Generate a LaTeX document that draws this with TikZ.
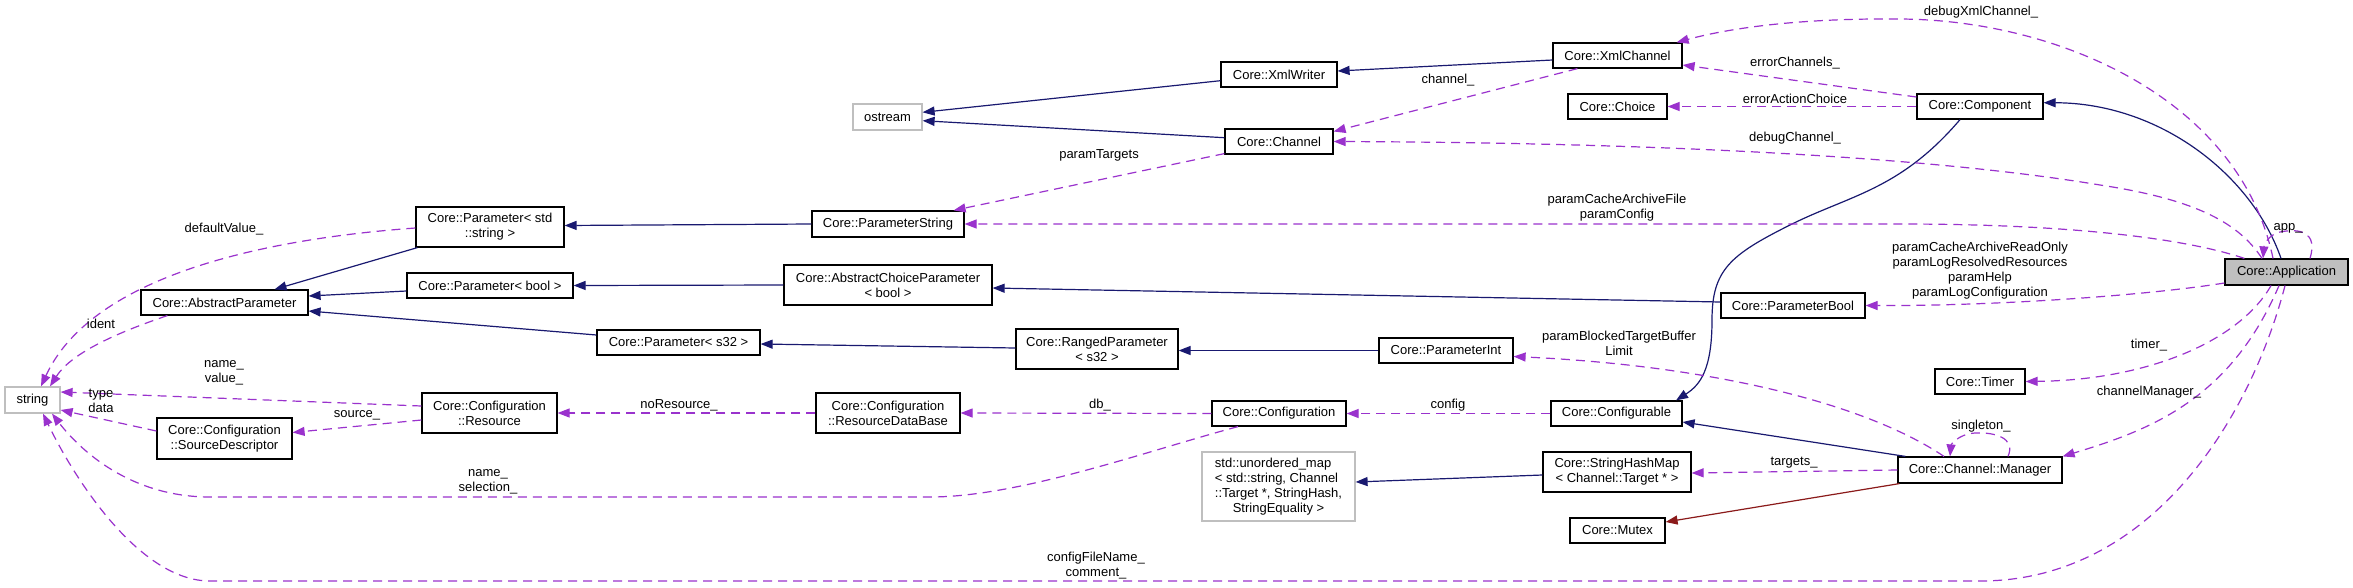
\documentclass[tikz,border=0pt]{standalone}
\usepackage{fontspec}
\setmainfont{Liberation Sans}
\usetikzlibrary{arrows.meta,calc}
\definecolor{inhcol}{HTML}{191970}
\definecolor{usecol}{HTML}{9A32CD}
\definecolor{privcol}{HTML}{8B1A1A}
\definecolor{graycol}{HTML}{BFBFBF}
\begin{document}
\begin{tikzpicture}[x=1pt,y=-1pt,font=\fontsize{13}{15}\selectfont,
  box/.style={draw=black,line width=1.2pt,inner sep=0pt,align=center,fill=white},
  gbox/.style={box,draw=graycol},
  lbl/.style={inner sep=0pt,align=center},
  inhline/.style={draw=inhcol,line width=1.2pt,-{Triangle[length=12pt,width=9pt]}},
  privline/.style={draw=privcol,line width=1.2pt,-{Triangle[length=12pt,width=9pt]}},
  useline/.style={draw=usecol,line width=1.2pt,dash pattern=on 9pt off 6pt,-{Triangle[length=12pt,width=9pt]}}]
\useasboundingbox[fill=white] (0,0) rectangle (2353,587);

% nodes
\node[gbox,minimum width=69,minimum height=26] (ostream) at (887.5,117) {ostream};
\node[gbox,minimum width=55,minimum height=26] (string) at (32.5,400) {string};
\node[box,minimum width=116,minimum height=25] (xmlwriter) at (1279,74.5) {Core::XmlWriter};
\node[box,minimum width=129,minimum height=25] (xmlchannel) at (1617.5,55.5) {Core::XmlChannel};
\node[box,minimum width=99,minimum height=25] (choice) at (1617.5,106.5) {Core::Choice};
\node[box,minimum width=126,minimum height=25] (component) at (1980,106.5) {Core::Component};
\node[box,minimum width=108,minimum height=25] (channel) at (1279,141.5) {Core::Channel};
\node[box,minimum width=148,minimum height=40] (paramstd) at (490,227) {Core::Parameter< std\\::string >};
\node[box,minimum width=152,minimum height=26] (paramstring) at (888,224) {Core::ParameterString};
\node[box,minimum width=167,minimum height=25] (absparam) at (224.5,302.5) {Core::AbstractParameter};
\node[box,minimum width=166,minimum height=25] (parambool) at (490,285.5) {Core::Parameter< bool >};
\node[box,minimum width=208,minimum height=40] (abschoice) at (888,285) {Core::AbstractChoiceParameter\\< bool >};
\node[box,minimum width=144,minimum height=25] (parameterbool) at (1793,305.5) {Core::ParameterBool};
\node[box,fill=graycol,minimum width=123,minimum height=26] (app) at (2286.5,272) {Core::Application};
\node[box,minimum width=163,minimum height=25] (params32) at (678.5,342.5) {Core::Parameter< s32 >};
\node[box,minimum width=162,minimum height=40] (ranged) at (1097,349) {Core::RangedParameter\\< s32 >};
\node[box,minimum width=134,minimum height=25] (paramint) at (1446,350.5) {Core::ParameterInt};
\node[box,minimum width=135,minimum height=40] (resource) at (489.5,413) {Core::Configuration\\::Resource};
\node[box,minimum width=135,minimum height=41] (sourcedesc) at (224.5,438.5) {Core::Configuration\\::SourceDescriptor};
\node[box,minimum width=144,minimum height=40] (rdb) at (888,413) {Core::Configuration\\::ResourceDataBase};
\node[box,minimum width=134,minimum height=25] (configuration) at (1279,413.5) {Core::Configuration};
\node[box,minimum width=131,minimum height=25] (configurable) at (1616.5,413.5) {Core::Configurable};
\node[box,minimum width=90,minimum height=25] (timer) at (1980,381.5) {Core::Timer};
\node[gbox,minimum width=153,minimum height=69] (umap) at (1278.5,486.5) {\begin{tabular}{@{}l@{}}std::unordered\_map\\< std::string, Channel\\::Target *, StringHash,\\\multicolumn{1}{@{}c@{}}{StringEquality >}\end{tabular}};
\node[box,minimum width=148,minimum height=40] (shm) at (1617,472) {Core::StringHashMap\\< Channel::Target * >};
\node[box,minimum width=164,minimum height=26] (manager) at (1980,470) {Core::Channel::Manager};
\node[box,minimum width=95,minimum height=25] (mutex) at (1617.5,530.5) {Core::Mutex};

% inheritance
\draw[inhline] ($(xmlwriter.west)+(0,6.2)$) -- ($(ostream.east)+(0,-4.7)$);
\draw[inhline] ($(channel.west)+(0,-3.8)$) -- ($(ostream.east)+(0,3.7)$);
\draw[inhline] ($(xmlchannel.west)+(0,4.5)$) -- ($(xmlwriter.east)+(0,-3.5)$);
\draw[inhline] ($(app.north)+(-5.5,0)$) .. controls (2252,175) and (2160,103) .. ($(component.east)+(0,-3.8)$);
\draw[inhline] (paramstring.west) -- ($(paramstd.east)+(0,-1.5)$);
\draw[inhline] ($(paramstd.south west)+(2,0)$) -- ($(absparam.north)+(50,0)$);
\draw[inhline] ($(parambool.west)+(0,5.5)$) -- ($(absparam.east)+(0,-6.5)$);
\draw[inhline] ($(params32.west)+(0,-7.5)$) -- ($(absparam.east)+(0,8.5)$);
\draw[inhline] (abschoice.west) -- (parambool.east);
\draw[inhline] ($(parameterbool.west)+(0,-3.5)$) -- ($(abschoice.east)+(0,3)$);
\draw[inhline] ($(ranged.west)+(0,-1)$) -- ($(params32.east)+(0,1.5)$);
\draw[inhline] (paramint.west) -- ($(ranged.east)+(0,1.5)$);
\draw[inhline] ($(component.south)+(-20,0)$) .. controls (1900,190) and (1850,195) .. (1790,225) .. controls (1730,255) and (1712,270) .. (1712,320) .. controls (1712,370) and (1700,385) .. ($(configurable.north)+(59.5,0)$);
\draw[inhline] ($(manager.north west)+(8,0)$) -- ($(configurable.east)+(0,8.5)$);
\draw[inhline] ($(shm.west)+(0,3)$) -- ($(umap.east)+(0,-4.5)$);
\draw[privline] ($(manager.south west)+(2,0)$) -- ($(mutex.east)+(0,-8.5)$);

% usage
\draw[useline] ($(xmlchannel.south west)+(25,0)$) -- ($(channel.east)+(0,-10)$);
\draw[useline] ($(channel.south west)+(0,-1)$) -- ($(paramstring.north east)+(-11,0)$);
\draw[useline] ($(component.west)+(0,-9.5)$) -- ($(xmlchannel.east)+(0,9.5)$);
\draw[useline] (component.west) -- (choice.east);
\draw[useline] ($(app.north)+(-13.5,0)$) .. controls (2240,100) and (2060,20) .. (1900,19) .. controls (1800,18) and (1730,28) .. ($(xmlchannel.north east)+(-6,0)$);
\draw[useline] ($(app.north)+(-24.5,0)$) .. controls (2240,225) and (2200,200) .. (2100,185) .. controls (1950,160) and (1700,143) .. (channel.east);
\draw[useline] ($(app.north west)+(20,0)$) .. controls (2190,240) and (2080,224) .. (1900,224) -- (paramstring.east);
\draw[useline] ($(app.west)+(0,11)$) .. controls (2150,295) and (2000,306) .. (parameterbool.east);
\draw[useline] ($(app.north)+(23.5,0)$) .. controls (2318,232) and (2300,228) .. (2280,232) .. controls (2268,235) and (2264,245) .. ($(app.north)+(-23.5,0)$);
\draw[useline] ($(app.south)+(-15.5,0)$) .. controls (2240,340) and (2150,380) .. (timer.east);
\draw[useline] ($(app.south)+(-7.5,0)$) .. controls (2230,400) and (2150,430) .. (manager.north east);
\draw[useline] ($(app.south)+(-1.5,0)$) .. controls (2250,420) and (2150,581) .. (1980,581) -- (210,581) .. controls (140,581) and (75,480) .. ($(string.south)+(10.5,0)$);
\draw[useline] ($(manager.north)+(-36,0)$) .. controls (1860,400) and (1700,365) .. ($(paramint.east)+(0,6)$);
\draw[useline] ($(manager.north)+(28,0)$) .. controls (2016,438) and (1995,432) .. (1975,433) .. controls (1958,434) and (1951,445) .. ($(manager.north)+(-30,0)$);
\draw[useline] (manager.west) -- ($(shm.east)+(0,1)$);
\draw[useline] (configurable.west) -- (configuration.east);
\draw[useline] (configuration.west) -- (rdb.east);
\draw[useline] (rdb.west) -- (resource.east);
\draw[useline] ($(configuration.south)+(-41,0)$) .. controls (1150,450) and (1020,497) .. (930,497) -- (210,497) .. controls (130,497) and (80,450) .. ($(string.south)+(19.5,0)$);
\draw[useline] ($(resource.west)+(0,-7)$) -- ($(string.east)+(0,-8)$);
\draw[useline] ($(resource.west)+(0,7)$) -- ($(sourcedesc.east)+(0,-6)$);
\draw[useline] ($(sourcedesc.west)+(0,-7.5)$) -- ($(string.east)+(0,10)$);
\draw[useline] ($(absparam.south west)+(27,0)$) .. controls (110,335) and (70,355) .. ($(string.north)+(17.5,0)$);
\draw[useline] ($(paramstd.west)+(0,1)$) .. controls (250,240) and (90,280) .. ($(string.north)+(8.5,0)$);

% labels
\node[lbl] (l1) at (224,229) {defaultValue\_};
\node[lbl] (l2) at (101,324) {ident};
\node[lbl] (l3) at (224,372.5) {name\_\\value\_};
\node[lbl] (l4) at (101,401) {type\\data};
\node[lbl] (l5) at (357,415) {source\_};
\node[lbl] (l6) at (679,405) {noResource\_};
\node[lbl] (l7) at (488,482) {name\_\\selection\_};
\node[lbl] (l8) at (1099,155) {paramTargets};
\node[lbl] (l9) at (1448,80) {channel\_};
\node[lbl] (l10) at (1100,405) {db\_};
\node[lbl] (l11) at (1448,405) {config};
\node[lbl] (l12) at (1096,565.5) {configFileName\_\\comment\_};
\node[lbl] (l13) at (1619,343.5) {paramBlockedTargetBuffer\\Limit};
\node[lbl] (l14) at (1981,12) {debugXmlChannel\_};
\node[lbl] (l15) at (1795,63) {errorChannels\_};
\node[lbl] (l16) at (1795,99) {errorActionChoice};
\node[lbl] (l17) at (1795,138) {debugChannel\_};
\node[lbl] (l18) at (1617,208) {paramCacheArchiveFile\\paramConfig};
\node[lbl] (l19) at (1980,270.5) {paramCacheArchiveReadOnly\\paramLogResolvedResources\\paramHelp\\paramLogConfiguration};
\node[lbl] (l20) at (2288,228) {app\_};
\node[lbl] (l21) at (2149,345) {timer\_};
\node[lbl] (l22) at (2149,392) {channelManager\_};
\node[lbl] (l23) at (1981,426) {singleton\_};
\node[lbl] (l24) at (1794,463) {targets\_};
\end{tikzpicture}
\end{document}
